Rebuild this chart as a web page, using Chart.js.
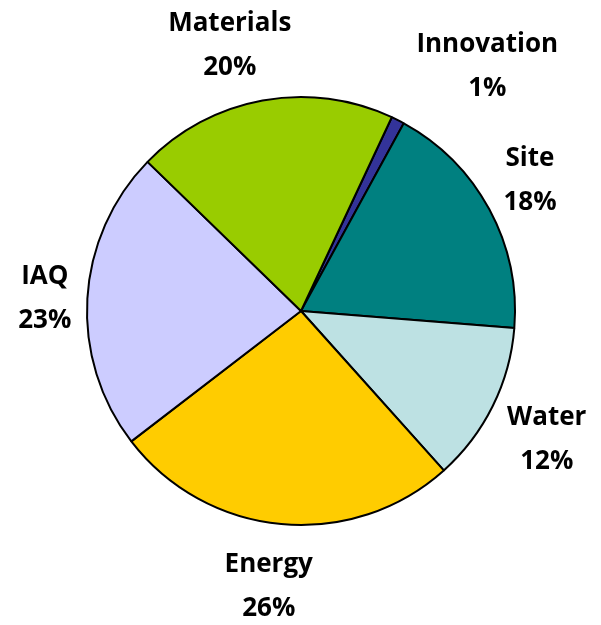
<!DOCTYPE html>
<html>
<head>
<meta charset="utf-8">
<title>Credit share pie</title>
<script src="https://cdn.jsdelivr.net/npm/chart.js@4.4.0/dist/chart.umd.min.js"></script>
<style>
  html, body { margin: 0; padding: 0; background: #ffffff; }
  canvas { display: block; }
</style>
</head>
<body>
<canvas id="chart" width="601" height="625"></canvas>
<script>
// slices, clockwise from the top
const categories = ["Innovation", "Site", "Water", "Energy", "IAQ", "Materials"];
const shares = [1.0, 18.3, 12.1, 26.2, 22.7, 19.7];
const sliceColors = ["#333399", "#008080", "#BDE1E3", "#FFCC00", "#CCCCFF", "#99CC00"];

const percentLabels = shares.map((v) => Math.round(v) + "%");

function clamp(v, lo, hi) {
  return Math.min(hi, Math.max(lo, v));
}

// Excel-style "outside end" labels: anchor just past the rim, box slid
// so it leans away from the pie
const outsideLabels = {
  id: "outsideLabels",
  afterDatasetsDraw(chart) {
    let ctx = chart.ctx;
    let arcs = chart.getDatasetMeta(0).data;
    ctx.save();
    ctx.font = "bold 26px 'Open Sans'";
    ctx.fillStyle = "#000000";
    ctx.textAlign = "center";
    ctx.textBaseline = "alphabetic";
    arcs.forEach((arc, i) => {
      let mid = (arc.startAngle + arc.endAngle) / 2;
      let r = arc.outerRadius + 16;
      let ax = arc.x + r * Math.cos(mid);
      let ay = arc.y + r * Math.sin(mid);
      let lines = [categories[i], percentLabels[i]];
      let w = Math.max(...lines.map((t) => ctx.measureText(t).width));
      let h = 86;
      let hf = clamp(0.5 - 1.35 * Math.cos(mid), -0.08, 1);
      let vf = clamp(0.5 - 0.6 * Math.sin(mid), 0, 1);
      if (Math.abs(Math.cos(mid)) > 0.8) hf = clamp(hf, 0, 1);
      let left = ax - hf * w;
      let top = ay - vf * h;
      lines.forEach((t, k) => {
        ctx.fillText(t, left + w / 2, top + 32 + k * 44);
      });
    });
    ctx.restore();
  },
};

new Chart(document.getElementById("chart"), {
  type: "pie",
  data: {
    labels: categories,
    datasets: [
      {
        data: shares,
        backgroundColor: sliceColors,
        borderColor: "#000000",
        borderWidth: 2,
      },
    ],
  },
  options: {
    responsive: false,
    animation: false,
    devicePixelRatio: 1,
    rotation: 25.1,
    layout: { padding: { left: 86, right: 85, top: 96, bottom: 99 } },
    plugins: {
      legend: { display: false },
      tooltip: { enabled: false },
    },
  },
  plugins: [outsideLabels],
});
</script>
</body>
</html>
